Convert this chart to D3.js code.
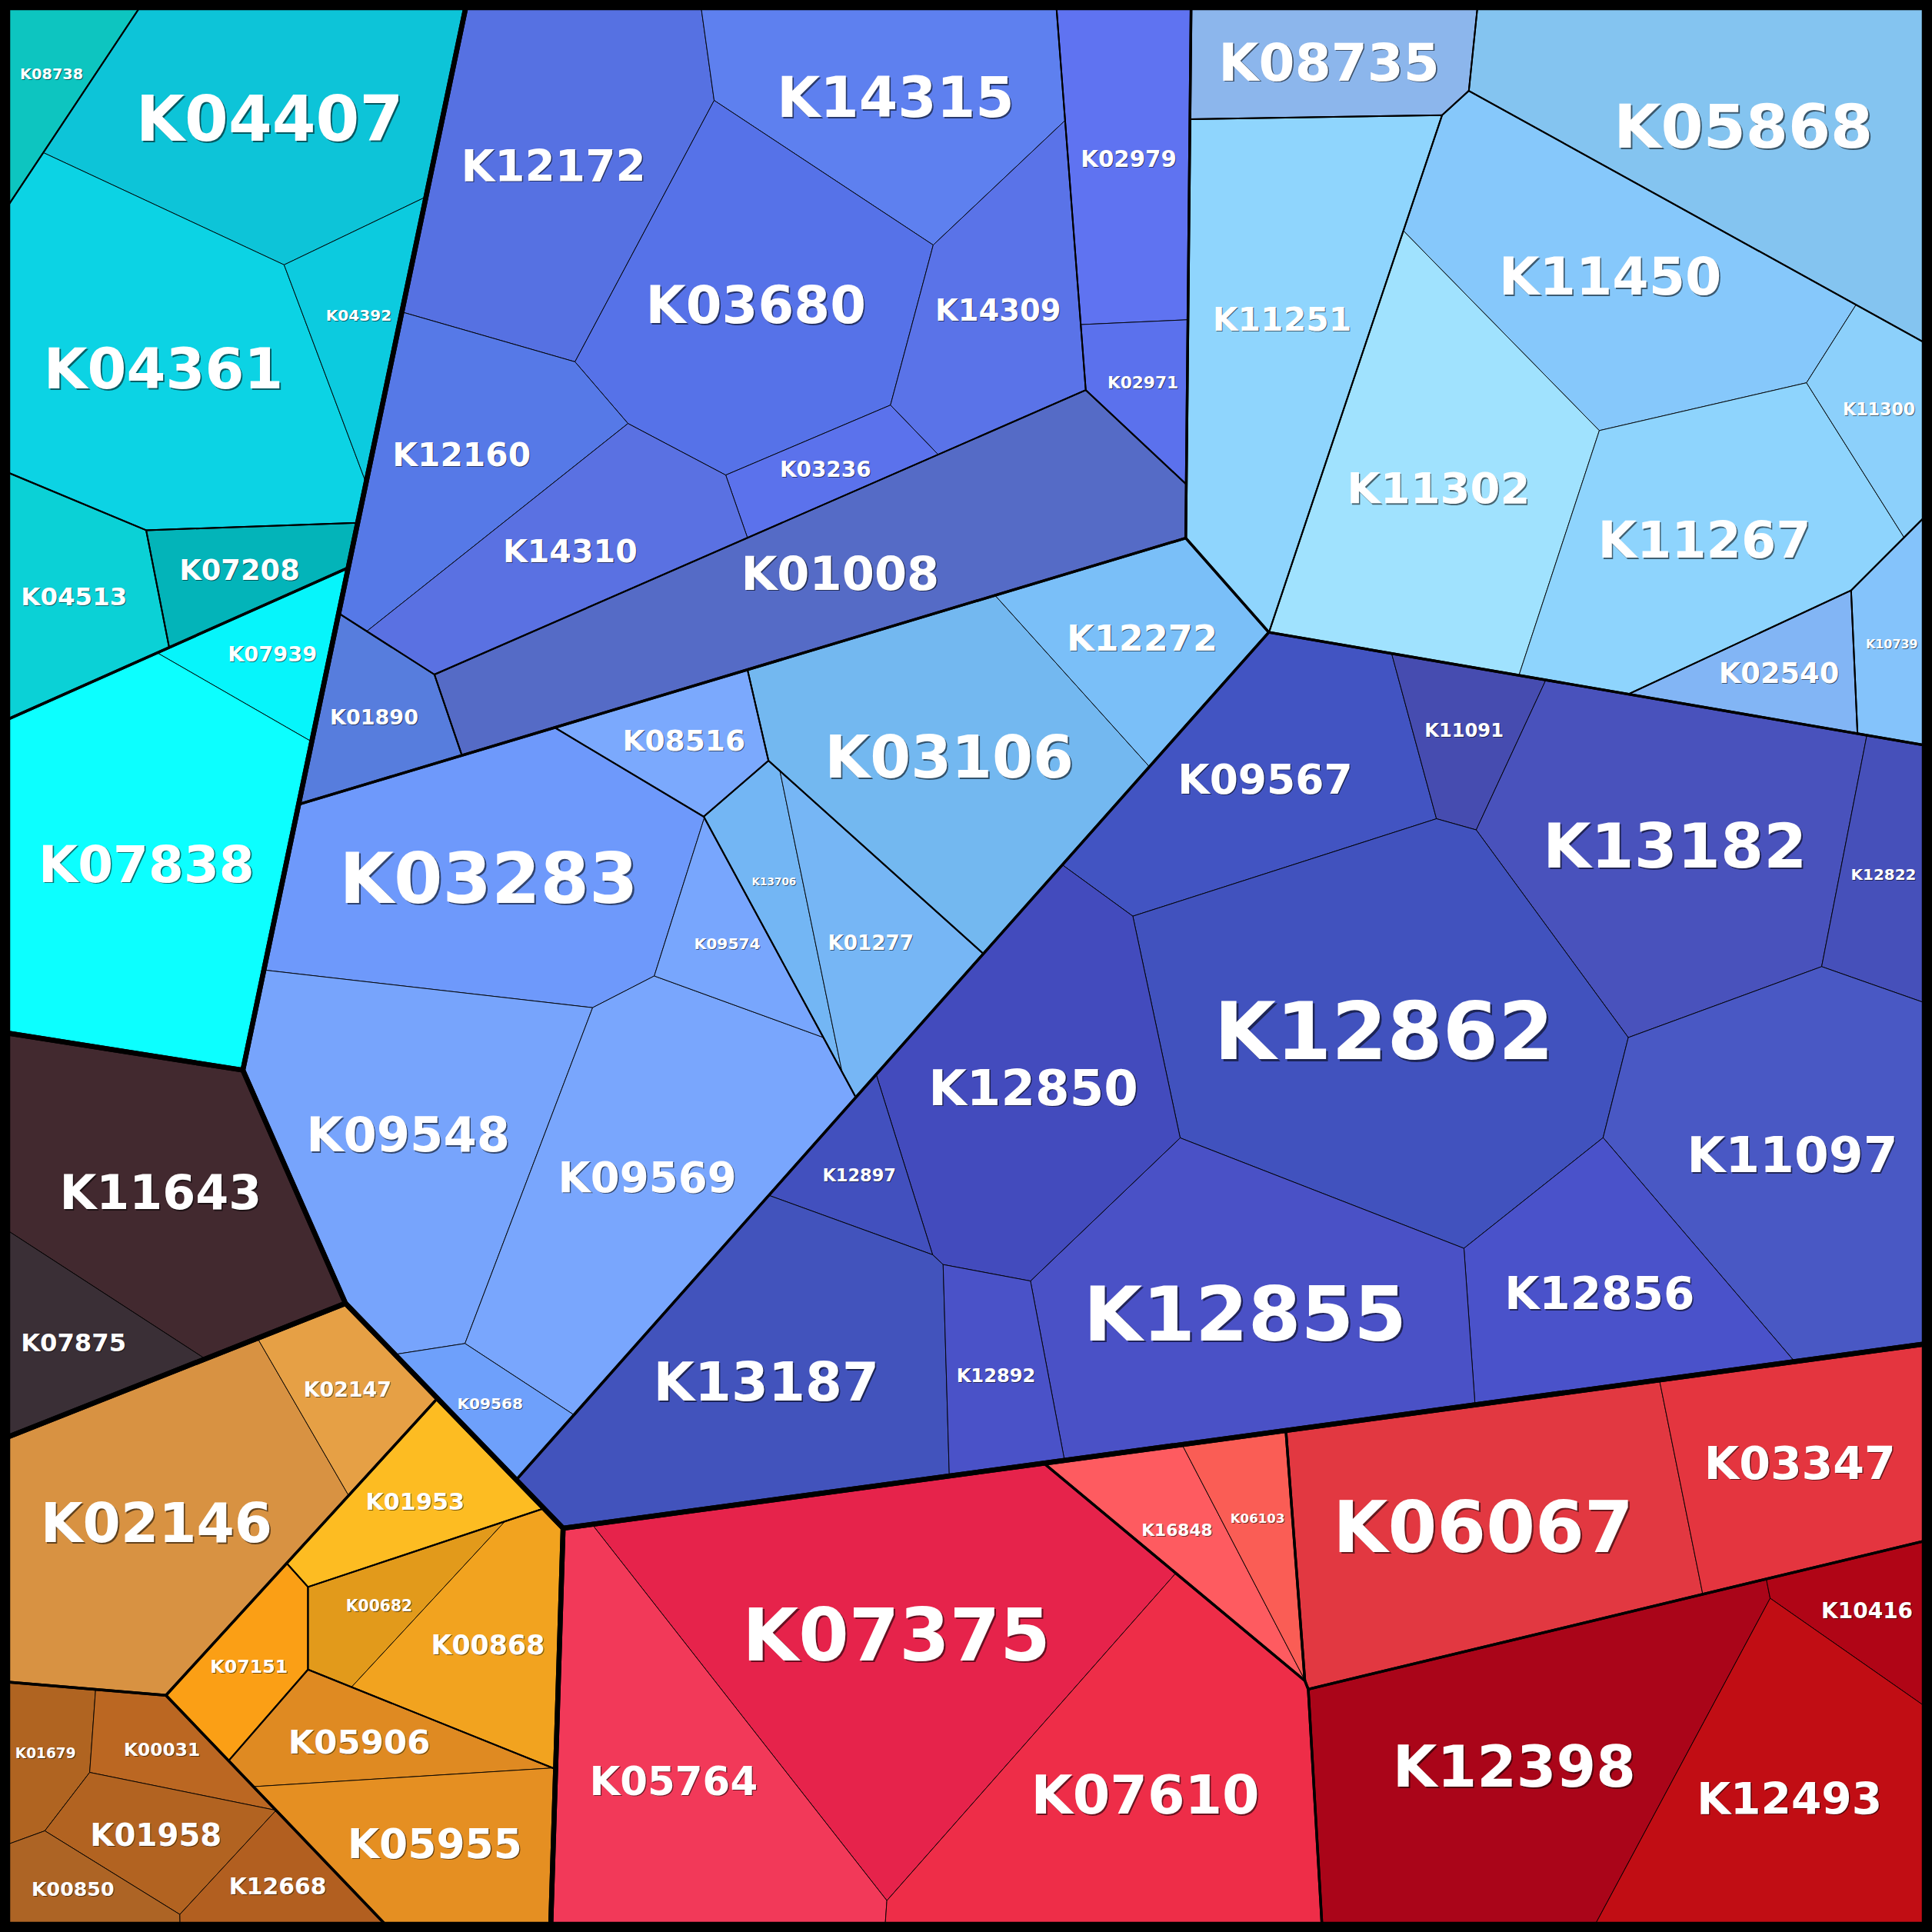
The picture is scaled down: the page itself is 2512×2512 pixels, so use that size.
<!DOCTYPE html>
<html>
<head>
<meta charset="utf-8">
<script src="https://cdn.jsdelivr.net/npm/d3@7"></script>
<style>
  html, body { margin: 0; padding: 0; background: #000; }
  svg { display: block; }
</style>
</head>
<body>
<svg id="chart" width="2512" height="2512"></svg>
<script>
// ---------------- data ----------------
// hierarchy of groups (id -> parent)
const groupIds = ['root',
  'A', 'A1', 'A2', 'A2a', 'A2b', 'A2c', 'A2d',
  'BL', 'B', 'B1', 'B2', 'B3', 'B4', 'C', 'C1', 'C2', 'C3', 'C4', 'C5', 'C6',
  'D', 'D1', 'D2', 'D3', 'D4', 'E',
  'F',
  'G', 'G1', 'G2', 'G2a', 'G2b', 'G2c', 'G2d', 'G3',
  'H', 'H1', 'H2', 'H3', 'H4'];
const groupParents = ['',
  'root', 'A', 'A', 'A2', 'A2', 'A2', 'A2',
  'root', 'BL', 'B', 'B', 'B', 'B', 'BL', 'C', 'C', 'C', 'C', 'C', 'C',
  'BL', 'D', 'D', 'D', 'D', 'BL',
  'root',
  'root', 'G', 'G', 'G2', 'G2', 'G2', 'G2', 'G',
  'root', 'H', 'H', 'H', 'H'];

// leaves
const leafNames = [
  'K08738', 'K04407', 'K04361', 'K04392', 'K04513', 'K07208', 'K07939', 'K07838',
  'K11643', 'K07875',
  'K02146', 'K02147', 'K01953', 'K07151', 'K00682', 'K00868', 'K05906', 'K05955',
  'K01679', 'K00031', 'K01958', 'K00850', 'K12668',
  'K07375', 'K05764', 'K07610', 'K16848', 'K06103', 'K06067', 'K03347', 'K12398', 'K10416', 'K12493',
  'K01008', 'K01890', 'K12172', 'K14315', 'K03680', 'K14309', 'K12160', 'K03236', 'K14310', 'K02979', 'K02971',
  'K08735', 'K05868', 'K11251', 'K11450', 'K11302', 'K11267', 'K11300', 'K02540', 'K10739',
  'K03283', 'K09548', 'K09569', 'K09574', 'K09568', 'K08516', 'K13706', 'K01277', 'K03106', 'K12272',
  'K09567', 'K11091', 'K13182', 'K12822', 'K12862', 'K11097', 'K12856', 'K12855', 'K12850', 'K12897', 'K13187', 'K12892'];
const leafValues = [
  86, 505, 642, 120, 180, 106, 99, 653,
  482, 134,
  545, 113, 136, 93, 86, 202, 126, 230,
  73, 76, 114, 67, 80,
  864, 502, 624, 115, 86, 615, 335, 684, 94, 463,
  640, 116, 511, 390, 533, 260, 308, 83, 271, 250, 78,
  200, 623, 542, 526, 559, 488, 108, 107, 86,
  582, 562, 580, 98, 70, 108, 89, 181, 528, 210,
  392, 102, 621, 132, 936, 608, 338, 660, 521, 86, 594, 130];
const leafParents = [
  'A2a', 'A2b', 'A2b', 'A2b', 'A2c', 'A2d', 'A1', 'A1',
  'F', 'F',
  'G1', 'G1', 'G2a', 'G2b', 'G2c', 'G2c', 'G2d', 'G2d',
  'G3', 'G3', 'G3', 'G3', 'G3',
  'H1', 'H1', 'H1', 'H2', 'H2', 'H3', 'H3', 'H4', 'H4', 'H4',
  'B1', 'B2', 'B3', 'B3', 'B3', 'B3', 'B3', 'B3', 'B3', 'B4', 'B4',
  'C1', 'C2', 'C3', 'C6', 'C6', 'C6', 'C6', 'C4', 'C5',
  'D1', 'D1', 'D1', 'D1', 'D1', 'D2', 'D3', 'D3', 'D4', 'D4',
  'E', 'E', 'E', 'E', 'E', 'E', 'E', 'E', 'E', 'E', 'E', 'E'];

// voronoi sites of the leaves (1568 px reference frame)
const seedX = [
  38, 216, 120, 285, 60, 182, 212, 109,
  109, 33,
  121, 285, 348, 205, 289, 370, 282, 287,
  38, 136, 124, 85, 190,
  727, 533, 931, 940, 1011, 1199, 1461, 1190, 1542, 1410,
  707, 309, 450, 657, 589, 810, 376, 671, 446, 917, 925,
  1071, 1427, 1037, 1323, 1167, 1374, 1523, 1443, 1535,
  388, 366, 516, 584, 402, 549, 624, 711, 767, 908,
  1044, 1184, 1352, 1526, 1113, 1447, 1288, 1020, 846, 699, 633, 804];
const seedY = [
  57, 85, 291, 229, 483, 463, 530, 709,
  960, 1077,
  1220, 1125, 1219, 1350, 1306, 1381, 1419, 1499,
  1416, 1423, 1482, 1545, 1543,
  1295, 1447, 1475, 1226, 1189, 1240, 1187, 1420, 1349, 1538,
  458, 581, 113, 84, 187, 246, 370, 380, 458, 130, 307,
  47, 97, 237, 228, 381, 449, 355, 550, 523,
  718, 910, 967, 780, 1141, 596, 715, 692, 607, 480,
  628, 590, 668, 702, 843, 927, 1063, 1082, 900, 946, 1128, 1123];

// voronoi sites of the groups (null = value weighted mean of its leaves)
const groupSeedX = [null,
  150, 232, 130, 25, 150, 46, 158,
  932, 600, 660, 345, 560, 899, 1200, 1075, 1443, 1078, 1418, 1529, 1317,
  727, 400, 544, 640, 791, 1075,
  64,
  195, 150, 290, 309, 205, 340, 305, 126,
  1032, 720, 880, 1276, 1321];
const groupSeedY = [null,
  400, 479, 250, 147, 230, 479, 457,
  564, 280, 459, 566, 230, 204, 286, 50, 88, 236, 533, 528, 316,
  703, 860, 619, 730, 562, 1012,
  946,
  1277, 1200, 1328, 1257, 1350, 1350, 1437, 1485,
  1303, 1420, 1228, 1198, 1385];

// fill colours
const leafColors = [
  '#0dc5c0', '#0dc4d8', '#0cd3e4', '#0ccbdf', '#0bd1d6', '#03b4b9', '#06f5fb', '#0cffff',
  '#42292f', '#3a2f36',
  '#d89242', '#e6a045', '#fdbc22', '#fb9f15', '#e29a1b', '#f2a31f', '#df8a22', '#e58f22',
  '#b06421', '#bb6722', '#b26321', '#ad6425', '#b25f20',
  '#e6234b', '#f23959', '#ee2d48', '#fe5b60', '#fa5d55', '#e23841', '#e4353f', '#aa0519', '#b00516', '#c10d14',
  '#556bc6', '#577ddd', '#5671e2', '#5e80ef', '#5672e8', '#5a73e8', '#5679e7', '#5b72ec', '#5a71e2', '#5f73f1', '#5b71ed',
  '#8cb6ec', '#84c4f0', '#8fd5fd', '#86c8fb', '#a0e2fe', '#8ed4fd', '#8cd0fb', '#82b5f5', '#84c3fb',
  '#6e99fb', '#77a4fc', '#79a6fd', '#78a6fd', '#6ea0fb', '#7ba9fd', '#73b6f4', '#76b6f5', '#73b8f0', '#7abff8',
  '#4254c2', '#464cb0', '#4952bc', '#4650ba', '#4152be', '#4958c4', '#4a52ca', '#4a51c6', '#434bbd', '#4250be', '#4253bc', '#4a52c8'];

// border width for each group depth
const depthStroke = {1: 6.5, 2: 3.4, 3: 2.0, 4: 1.4};
const leafStroke = 0.9;

// ---------------- setup ----------------
const size = 2512, frame = 10;
const sx = d3.scaleLinear().domain([6, 1562]).range([frame, size - frame]);
const sy = d3.scaleLinear().domain([6, 1562]).range([frame, size - frame]);

const svg = d3.select('#chart');

/*
Keep the part of a convex polygon where a*x + b*y <= c
 */
function clip(poly, a, b, c) {
    const out = [];
    for (let k = 0; k < poly.length; k++) {
        const P = poly[k], Q = poly[(k + 1) % poly.length];
        const fp = a * P[0] + b * P[1] - c, fq = a * Q[0] + b * Q[1] - c;
        if (fp <= 0) out.push(P);
        if ((fp < 0 && fq > 0) || (fp > 0 && fq < 0)) {
            const t = fp / (fp - fq);
            out.push([P[0] + t * (Q[0] - P[0]), P[1] + t * (Q[1] - P[1])]);
        }
    }
    return out;
}

/*
Power cell of site i inside poly
 */
function powerCell(i, sites, w, poly) {
    let cell = poly;
    const [xi, yi] = sites[i];
    for (let j = 0; j < sites.length && cell.length > 2; j++) {
        if (j === i) continue;
        const [xj, yj] = sites[j];
        cell = clip(cell, 2 * (xj - xi), 2 * (yj - yi),
            (xj * xj + yj * yj) - (xi * xi + yi * yi) - w[j] + w[i]);
    }
    return cell;
}

/*
d(area)/d(weight) of a cell: sum over shared edges of length / (2 * site distance)
 */
function sensitivity(i, cell, sites, w) {
    const [xi, yi] = sites[i];
    let s = 0;
    for (let k = 0; k < cell.length; k++) {
        const u = cell[k], v = cell[(k + 1) % cell.length];
        const m = [(u[0] + v[0]) / 2, (u[1] + v[1]) / 2];
        const len = Math.hypot(v[0] - u[0], v[1] - u[1]);
        const pi = (m[0] - xi) ** 2 + (m[1] - yi) ** 2 - w[i];
        let best = Infinity, bestD = 0;
        sites.forEach((p, j) => {
            if (j === i) return;
            const d = Math.hypot(p[0] - xi, p[1] - yi);
            if (d === 0) return;
            const g = Math.abs((m[0] - p[0]) ** 2 + (m[1] - p[1]) ** 2 - w[j] - pi) / (2 * d);
            if (g < best) { best = g; bestD = d; }
        });
        if (best < 0.5) s += len / (2 * bestD);
    }
    return s;
}

/*
Split a convex polygon into power cells (sites fixed) whose areas follow the values
 */
function powerTreemap(poly, seeds, values) {
    const n = seeds.length;
    if (poly.length < 3) return seeds.map(() => []);
    const areaP = Math.abs(d3.polygonArea(poly));
    const total = d3.sum(values);
    const target = values.map(v => v / total * areaP);
    const pc = d3.polygonCentroid(poly);
    const sites = seeds.map(s => {
        let p = s.slice(), k = 0;
        while (!d3.polygonContains(poly, p) && k++ < 60) {
            p = [pc[0] + 0.9 * (p[0] - pc[0]), pc[1] + 0.9 * (p[1] - pc[1])];
        }
        return p;
    });
    const w = new Array(n).fill(0);
    for (let it = 0; it < 600; it++) {
        const cells = sites.map((_, i) => powerCell(i, sites, w, poly));
        const areas = cells.map(c => c.length > 2 ? Math.abs(d3.polygonArea(c)) : 0);
        const wMax = d3.max(w);
        const dw = cells.map((c, i) => {
            if (areas[i] === 0) return wMax - w[i];
            const s = sensitivity(i, c, sites, w);
            return s > 0 ? 0.5 * (target[i] - areas[i]) / s : 0;
        });
        dw.forEach((d, i) => w[i] += d);
    }
    return sites.map((_, i) => powerCell(i, sites, w, poly));
}

// ---------------- hierarchy ----------------
const rows = groupIds.map((id, i) => ({
        id: id, parent: groupParents[i],
        seed: groupSeedX[i] == null ? null : [sx(groupSeedX[i]), sy(groupSeedY[i])]
    }))
    .concat(leafNames.map((id, i) => ({
        id: id, parent: leafParents[i], value: leafValues[i],
        seed: [sx(seedX[i]), sy(seedY[i])], color: leafColors[i]
    })));

const root = d3.stratify().id(d => d.id).parentId(d => d.parent)(rows)
    .sum(d => d.value || 0);

root.eachAfter(node => {
    if (node.data.seed) { node.seed = node.data.seed; return; }
    const ls = node.leaves();
    const t = d3.sum(ls, l => l.value);
    node.seed = [d3.sum(ls, l => l.data.seed[0] * l.value) / t,
                 d3.sum(ls, l => l.data.seed[1] * l.value) / t];
});

function layout(node, poly) {
    node.polygon = poly;
    if (!node.children) return;
    if (node.children.length === 1) { layout(node.children[0], poly); return; }
    const cells = powerTreemap(poly, node.children.map(k => k.seed), node.children.map(k => k.value));
    node.children.forEach((k, i) => layout(k, cells[i]));
}

const outer = [[sx(6), sy(6)], [sx(1562), sy(6)], [sx(1562), sy(1562)], [sx(6), sy(1562)]];
layout(root, outer);

// ---------------- drawing ----------------
const line = d3.line().curve(d3.curveLinearClosed);
const ok = d => d.polygon && d.polygon.length > 2;

svg.append('rect')
    .attr('width', size).attr('height', size)
    .attr('fill', '#000');

const leaves = root.leaves().filter(ok);

// Leaf cells
svg.append('g').selectAll('path')
    .data(leaves)
    .join('path')
    .attr('d', d => line(d.polygon))
    .attr('fill', d => d.data.color)
    .attr('stroke', '#000')
    .attr('stroke-width', leafStroke)
    .attr('stroke-linejoin', 'round');

// Group borders, deepest first so the heavy ones end up on top
const groups = root.descendants().filter(d => d.children && d.depth > 0 && ok(d))
    .sort((a, b) => b.depth - a.depth);
svg.append('g').selectAll('path')
    .data(groups)
    .join('path')
    .attr('d', d => line(d.polygon))
    .attr('fill', 'none')
    .attr('stroke', '#000')
    .attr('stroke-width', d => depthStroke[d.depth] || 1)
    .attr('stroke-linejoin', 'round');

// Label sizes: largest centred box that fits the cell, scaled down a bit
const ctx = document.createElement('canvas').getContext('2d');
ctx.font = 'bold 100px "DejaVu Sans"';

function fitFont(poly, c, emW) {
    let lo = 0, hi = 400;
    for (let k = 0; k < 30; k++) {
        const fs = (lo + hi) / 2, hw = emW * fs / 2, hh = 0.73 * fs / 2;
        const inside = [[-hw, -hh], [hw, -hh], [hw, hh], [-hw, hh]]
            .every(([dx, dy]) => d3.polygonContains(poly, [c[0] + dx, c[1] + dy]));
        if (inside) lo = fs; else hi = fs;
    }
    return lo;
}

leaves.forEach(d => {
    d.center = d3.polygonCentroid(d.polygon);
    const emW = ctx.measureText(d.data.id).width / 100;
    d.fontSize = 0.80 * fitFont(d.polygon, d.center, emW);
});

const labels = svg.append('g')
    .style('font-family', '"DejaVu Sans", sans-serif')
    .style('font-weight', 'bold')
    .attr('text-anchor', 'middle')
    .selectAll('g')
    .data(leaves)
    .join('g');

// soft dark shadow
labels.append('text')
    .attr('x', d => d.center[0] + Math.max(1, d.fontSize * 0.025))
    .attr('y', d => d.center[1] + 0.365 * d.fontSize + Math.max(1, d.fontSize * 0.025))
    .style('font-size', d => d.fontSize + 'px')
    .attr('fill', 'rgba(0,0,0,0.55)')
    .text(d => d.data.id);

labels.append('text')
    .attr('x', d => d.center[0])
    .attr('y', d => d.center[1] + 0.365 * d.fontSize)
    .style('font-size', d => d.fontSize + 'px')
    .attr('fill', '#fff')
    .text(d => d.data.id);
</script>
</body>
</html>
